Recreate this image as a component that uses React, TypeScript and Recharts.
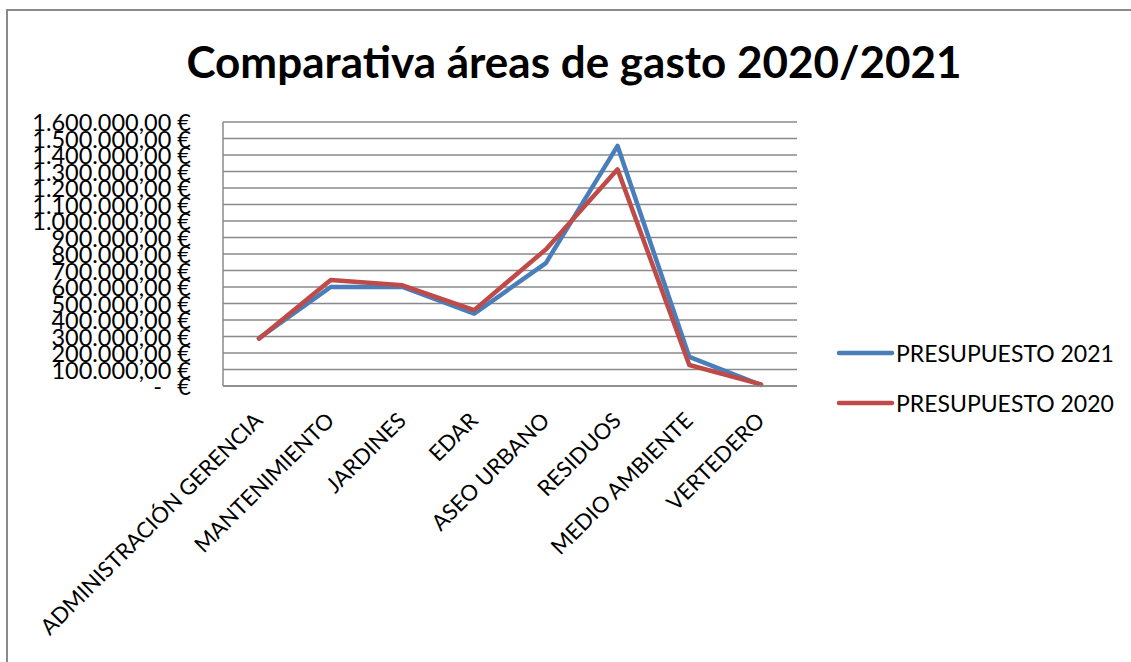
import React from "react";
import { LineChart, Line, XAxis, YAxis, CartesianGrid } from "recharts";

const categories = [
  "ADMINISTRACIÓN GERENCIA",
  "MANTENIMIENTO",
  "JARDINES",
  "EDAR",
  "ASEO URBANO",
  "RESIDUOS",
  "MEDIO AMBIENTE",
  "VERTEDERO",
];
const presupuesto2021 = [290000, 600000, 600000, 438000, 745000, 1455000, 176000, 6000];
const presupuesto2020 = [287000, 642000, 610000, 460000, 828000, 1313000, 127000, 10000];
const yTicks = [
  0, 100000, 200000, 300000, 400000, 500000, 600000, 700000, 800000, 900000,
  1000000, 1100000, 1200000, 1300000, 1400000, 1500000, 1600000,
];
const seriesNames = ["PRESUPUESTO 2021", "PRESUPUESTO 2020"];
const title = "Comparativa áreas de gasto 2020/2021";

const data = categories.map((c, i) => ({
  cat: c,
  p2021: presupuesto2021[i],
  p2020: presupuesto2020[i],
}));

const FONT = "Lato, 'Open Sans', sans-serif";
const BLUE = "#4A7EBB";
const RED = "#BE4B48";
const GRID = "#8a8a8a";
const LABEL_RIGHT = 191;
const Y_FONT = 23.5;

function fmt(v: number) {
  const s = Math.round(v).toString().replace(/\B(?=(\d{3})+(?!\d))/g, ".");
  return s + ",00 €";
}

const YTick = (props: any) => {
  const { y, payload } = props;
  const v = payload.value as number;
  if (v === 0) {
    return (
      <g fontFamily={FONT} fontSize={Y_FONT} fill="#000">
        <text x={LABEL_RIGHT - 29} y={y} textAnchor="end" dominantBaseline="central">-</text>
        <text x={LABEL_RIGHT} y={y} textAnchor="end" dominantBaseline="central">€</text>
      </g>
    );
  }
  return (
    <text
      x={LABEL_RIGHT}
      y={y}
      textAnchor="end"
      dominantBaseline="central"
      fontFamily={FONT}
      fontSize={Y_FONT}
      fill="#000"
    >
      {fmt(v)}
    </text>
  );
};

const XTick = (props: any) => {
  const { x, payload } = props;
  const ax = x + 5;
  const ay = 422;
  return (
    <text
      x={ax}
      y={ay}
      textAnchor="end"
      transform={`rotate(-45, ${ax}, ${ay})`}
      fontFamily={FONT}
      fontSize={22}
      fill="#000"
    >
      {payload.value}
    </text>
  );
};

const LegendBox = () => (
  <svg width={290} height={110} style={{ position: "absolute", left: 836, top: 335 }}>
    {[BLUE, RED].map((col, i) => (
      <g key={i}>
        <line
          x1={3}
          x2={56}
          y1={18 + i * 50}
          y2={18 + i * 50}
          stroke={col}
          strokeWidth={4.5}
          strokeLinecap="round"
        />
        <text
          x={60}
          y={18 + i * 50}
          dominantBaseline="central"
          fontFamily={FONT}
          fontSize={23}
          fill="#000"
        >
          {seriesNames[i]}
        </text>
      </g>
    ))}
  </svg>
);

export default function App() {
  return (
    <div
      style={{
        position: "absolute",
        left: 0,
        top: 0,
        width: 1131,
        height: 662,
        overflow: "hidden",
        background: "#fff",
      }}
    >
      <div
        style={{
          position: "absolute",
          left: 6,
          top: 9,
          width: 1300,
          height: 800,
          borderLeft: "2px solid #8a8a8a",
          borderTop: "2px solid #8a8a8a",
        }}
      />
      <div
        style={{
          position: "absolute",
          left: 0,
          width: 1148,
          top: 33,
          textAlign: "center",
          fontFamily: FONT,
          fontWeight: 700,
          fontSize: 44,
          lineHeight: "56px",
          color: "#000",
        }}
      >
        {title}
      </div>
      <div style={{ position: "absolute", left: 0, top: 0 }}>
        <LineChart
          width={1131}
          height={662}
          data={data}
          margin={{ top: 122, right: 334, bottom: 0, left: 0 }}
        >
          <CartesianGrid
            horizontal={true}
            vertical={false}
            stroke={GRID}
            strokeWidth={1.5}
          />
          <XAxis
            dataKey="cat"
            height={276}
            interval={0}
            tick={<XTick />}
            tickLine={false}
            axisLine={{ stroke: GRID, strokeWidth: 1.5 }}
            padding={{ left: 36, right: 36 }}
          />
          <YAxis
            width={223}
            domain={[0, 1600000]}
            ticks={yTicks}
            interval={0}
            tick={<YTick />}
            tickLine={false}
            axisLine={{ stroke: GRID, strokeWidth: 1.5 }}
          />
          <Line
            dataKey="p2021"
            name={seriesNames[0]}
            stroke={BLUE}
            strokeWidth={4.5}
            dot={false}
            strokeLinecap="round"
            strokeLinejoin="round"
            isAnimationActive={false}
          />
          <Line
            dataKey="p2020"
            name={seriesNames[1]}
            stroke={RED}
            strokeWidth={4.5}
            dot={false}
            strokeLinecap="round"
            strokeLinejoin="round"
            isAnimationActive={false}
          />
        </LineChart>
      </div>
      <LegendBox />
    </div>
  );
}
